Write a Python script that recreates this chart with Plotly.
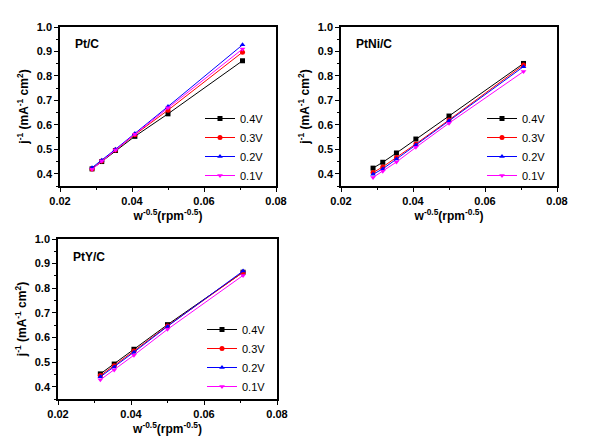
import plotly.graph_objects as go

# --- data ---
x_full = [0.0289, 0.0316, 0.0354, 0.0408, 0.0500, 0.0707]
x_pty = [0.0316, 0.0354, 0.0408, 0.0500, 0.0707]
potentials = ['0.4V', '0.3V', '0.2V', '0.1V']

ptc_04 = [0.420, 0.450, 0.495, 0.553, 0.645, 0.862]
ptc_03 = [0.420, 0.452, 0.497, 0.560, 0.660, 0.897]
ptc_02 = [0.425, 0.455, 0.500, 0.565, 0.675, 0.927]
ptc_01 = [0.418, 0.452, 0.497, 0.562, 0.670, 0.910]

ptni_04 = [0.423, 0.447, 0.485, 0.542, 0.636, 0.851]
ptni_03 = [0.405, 0.428, 0.467, 0.522, 0.620, 0.845]
ptni_02 = [0.398, 0.420, 0.460, 0.518, 0.617, 0.838]
ptni_01 = [0.385, 0.410, 0.448, 0.508, 0.607, 0.818]

pty_04 = [0.452, 0.492, 0.552, 0.652, 0.865]
pty_03 = [0.445, 0.485, 0.545, 0.647, 0.865]
pty_02 = [0.440, 0.480, 0.540, 0.645, 0.870]
pty_01 = [0.428, 0.468, 0.528, 0.633, 0.852]

panels = [
    ('Pt/C', x_full, [ptc_04, ptc_03, ptc_02, ptc_01]),
    ('PtNi/C', x_full, [ptni_04, ptni_03, ptni_02, ptni_01]),
    ('PtY/C', x_pty, [pty_04, pty_03, pty_02, pty_01]),
]

COLORS = ['#000000', '#ff0000', '#0000ff', '#ff00ff']
SYMBOLS = ['square', 'circle', 'triangle-up', 'triangle-down']
FONT = 'Arial, Liberation Sans, sans-serif'

#--- panel placement ---
# the page body has an 8px margin, so the figure is drawn 8px in from the corner
OFF = 8
W, H = 605 - OFF, 440 - OFF
def fx(px):
    return (px - OFF) / W
def fy(px):
    return 1 - (px - OFF) / H

x_domains = [[fx(60), fx(276)], [fx(341), fx(557)], [fx(58), fx(277)]]
y_domains = [[fy(186), fy(27)], [fy(186), fy(27)], [fy(399), fy(239)]]
legend_pos = [(fx(269), fy(147)), (fx(551), fy(147)), (fx(271), fy(358))]

fig = go.Figure()
layout = {}
for p, (name, xs, series) in enumerate(panels):
    sfx = '' if p == 0 else str(p+1)
    leg = 'legend' + sfx
    for k, ys in enumerate(series):
        fig.add_trace(go.Scatter(
            x=xs, y=ys, mode='lines+markers', name=potentials[k],
            xaxis='x'+sfx, yaxis='y'+sfx, legend=leg,
            line=dict(color=COLORS[k], width=1),
            marker=dict(symbol=SYMBOLS[k], color=COLORS[k], size=5),
        ))
    axis_common = dict(
        showline=True, linecolor='black', linewidth=1.5, mirror=True,
        ticks='outside', ticklen=4, tickwidth=1, tickcolor='black',
        showgrid=False, zeroline=False, automargin=False,
        tickfont=dict(family=FONT, size=11, color='black', weight='bold'),
    )
    layout['xaxis'+sfx] = dict(
        axis_common, domain=x_domains[p], anchor='y'+sfx,
        range=[0.02, 0.08], tickvals=[0.02, 0.04, 0.06, 0.08],
        ticktext=['0.02', '0.04', '0.06', '0.08'],
        minor=dict(ticks='outside', ticklen=2, tickcolor='black', dtick=0.01, tick0=0.02),
        title=dict(text='w<sup>-0.5</sup>(rpm<sup>-0.5</sup>)', standoff=6,
                   font=dict(family=FONT, size=12, color='black', weight='bold')),
    )
    layout['yaxis'+sfx] = dict(
        axis_common, domain=y_domains[p], anchor='x'+sfx,
        range=[0.35, 1.0], tickvals=[0.4, 0.5, 0.6, 0.7, 0.8, 0.9, 1.0],
        ticktext=['0.4', '0.5', '0.6', '0.7', '0.8', '0.9', '1.0'],
        minor=dict(ticks='outside', ticklen=2, tickcolor='black', dtick=0.05, tick0=0.35),
        title=dict(text='j<sup>-1</sup> (mA<sup>-1</sup> cm<sup>2</sup>)', standoff=6,
                   font=dict(family=FONT, size=12, color='black', weight='bold')),
    )
    layout[leg] = dict(
        x=legend_pos[p][0], y=legend_pos[p][1], xanchor='right', yanchor='middle',
        bgcolor='rgba(0,0,0,0)', itemwidth=30, tracegroupgap=0,
        font=dict(family=FONT, size=11, color='black'),
    )
    fig.add_annotation(
        text='<b>%s</b>' % name, xref='x%s domain' % sfx, yref='y%s domain' % sfx,
        x=0.06, y=0.89, xanchor='left', yanchor='middle', showarrow=False,
        font=dict(family=FONT, size=12, color='black'),
    )

fig.update_layout(**layout)
fig.update_layout(
    width=W, height=H, margin=dict(l=0, r=0, t=0, b=0, autoexpand=False),
    plot_bgcolor='white', paper_bgcolor='white', showlegend=True,
)

fig.write_html("out.html")
